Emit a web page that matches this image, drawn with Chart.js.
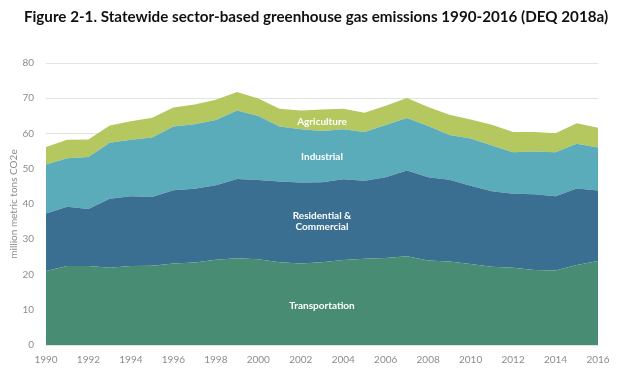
<!DOCTYPE html>
<html>
<head>
<meta charset="utf-8">
<script src="https://cdn.jsdelivr.net/npm/chart.js@4/dist/chart.umd.min.js"></script>
<style>
  html, body { margin: 0; padding: 0; background: #ffffff; }
  #wrap { width: 632px; height: 379px; position: relative; }
</style>
</head>
<body>
<div id="wrap"><canvas id="c" width="632" height="379"></canvas></div>
<script>
const years = ["1990","1991","1992","1993","1994","1995","1996","1997","1998","1999","2000","2001","2002","2003","2004","2005","2006","2007","2008","2009","2010","2011","2012","2013","2014","2015","2016"];
const transportation = [21.0,22.4,22.4,21.9,22.4,22.5,23.1,23.4,24.2,24.6,24.3,23.5,23.1,23.5,24.1,24.5,24.7,25.2,24.0,23.7,23.0,22.2,21.9,21.3,21.1,22.7,23.8];
const residentialCommercial = [16.3,16.8,16.2,19.6,19.8,19.5,20.8,20.9,21.1,22.5,22.5,22.9,23.0,22.7,22.9,22.1,22.9,24.3,23.6,23.2,22.2,21.4,21.0,21.5,21.1,21.7,20.0];
const industrial = [13.9,13.8,14.7,15.9,16.0,16.9,18.1,18.3,18.5,19.4,18.2,15.6,15.1,14.5,14.2,13.8,14.8,14.9,14.5,12.7,13.4,13.0,11.8,12.1,12.5,12.7,12.2];
const agriculture = [5.0,5.2,5.0,4.9,5.3,5.6,5.4,5.6,5.8,5.3,4.9,5.0,5.3,6.1,5.8,5.5,5.5,5.7,5.4,5.7,5.4,5.9,5.7,5.5,5.4,5.8,5.6];
const yTicks = [0,10,20,30,40,50,60,70,80];
const titleText = "Figure 2-1. Statewide sector-based greenhouse gas emissions 1990-2016 (DEQ 2018a)";
const yAxisTitle = "million metric tons CO2e";

// in-chart labels: [text lines, category index, value]
const areaLabels = [
  { lines: ["Agriculture"], idx: 13, val: 63.3 },
  { lines: ["Industrial"], idx: 13, val: 53.3 },
  { lines: ["Residential &", "Commercial"], idx: 13, val: 35.0 },
  { lines: ["Transportation"], idx: 13, val: 11.2 }
];

const colors = {
  transportation: "rgb(72,140,115)",
  residential: "rgb(58,111,146)",
  industrial: "rgb(91,172,186)",
  agriculture: "rgb(181,200,96)"
};

const titlePlugin = {
  id: "figTitle",
  afterDraw(chart) {
    const ctx = chart.ctx;
    ctx.save();
    ctx.fillStyle = "#111111";
    ctx.font = "bold 15.2px Lato, 'Open Sans', sans-serif";
    ctx.textAlign = "center";
    ctx.textBaseline = "middle";
    ctx.fillText(titleText, 316, 17);
    ctx.restore();
  }
};

const labelPlugin = {
  id: "areaLabels",
  afterDatasetsDraw(chart) {
    const ctx = chart.ctx;
    const xs = chart.scales.x, ys = chart.scales.y;
    ctx.save();
    ctx.fillStyle = "#ffffff";
    ctx.font = "bold 10px Lato, 'Open Sans', sans-serif";
    ctx.textAlign = "center";
    ctx.textBaseline = "middle";
    areaLabels.forEach(l => {
      const x = xs.getPixelForValue(l.idx);
      const y = ys.getPixelForValue(l.val);
      const lh = 11;
      const start = y - (l.lines.length - 1) * lh / 2;
      l.lines.forEach((t, i) => ctx.fillText(t, x, start + i * lh));
    });
    ctx.restore();
  }
};

const mk = (label, data, color, fill) => ({
  label, data, fill,
  backgroundColor: color,
  borderColor: color,
  borderWidth: 0,
  pointRadius: 0,
  tension: 0
});

new Chart(document.getElementById("c"), {
  type: "line",
  data: {
    labels: years,
    datasets: [
      mk("Transportation", transportation, colors.transportation, "origin"),
      mk("Residential & Commercial", residentialCommercial, colors.residential, "-1"),
      mk("Industrial", industrial, colors.industrial, "-1"),
      mk("Agriculture", agriculture, colors.agriculture, "-1")
    ]
  },
  options: {
    responsive: false,
    animation: false,
    events: [],
    layout: { padding: { top: 63, right: 34, bottom: 0, left: 0 } },
    plugins: {
      legend: { display: false },
      title: { display: false },
      tooltip: { enabled: false }
    },
    scales: {
      x: {
        offset: false,
        afterFit(scale) { scale.height = 34; },
        grid: { display: false, drawTicks: false },
        border: { display: false },
        ticks: {
          autoSkip: false,
          maxRotation: 0,
          padding: 9,
          color: "#8c8c8c",
          font: { family: "Lato, 'Open Sans', sans-serif", size: 10 },
          callback: function (v, i) { return (i % 2 === 0) ? years[i] : ""; }
        }
      },
      y: {
        stacked: true,
        min: 0,
        max: 80,
        afterBuildTicks(scale) { scale.ticks = yTicks.map(v => ({ value: v })); },
        afterFit(scale) { scale.width = 46; },
        grid: { color: "#e3e3e3", lineWidth: 1, drawTicks: false },
        border: { display: false },
        ticks: {
          padding: 12,
          color: "#8c8c8c",
          font: { family: "Lato, 'Open Sans', sans-serif", size: 10 }
        },
        title: {
          display: true,
          text: yAxisTitle,
          color: "#8c8c8c",
          font: { family: "Lato, 'Open Sans', sans-serif", size: 10 },
          padding: { top: 8, bottom: 2 }
        }
      }
    }
  },
  plugins: [titlePlugin, labelPlugin]
});
</script>
</body>
</html>
